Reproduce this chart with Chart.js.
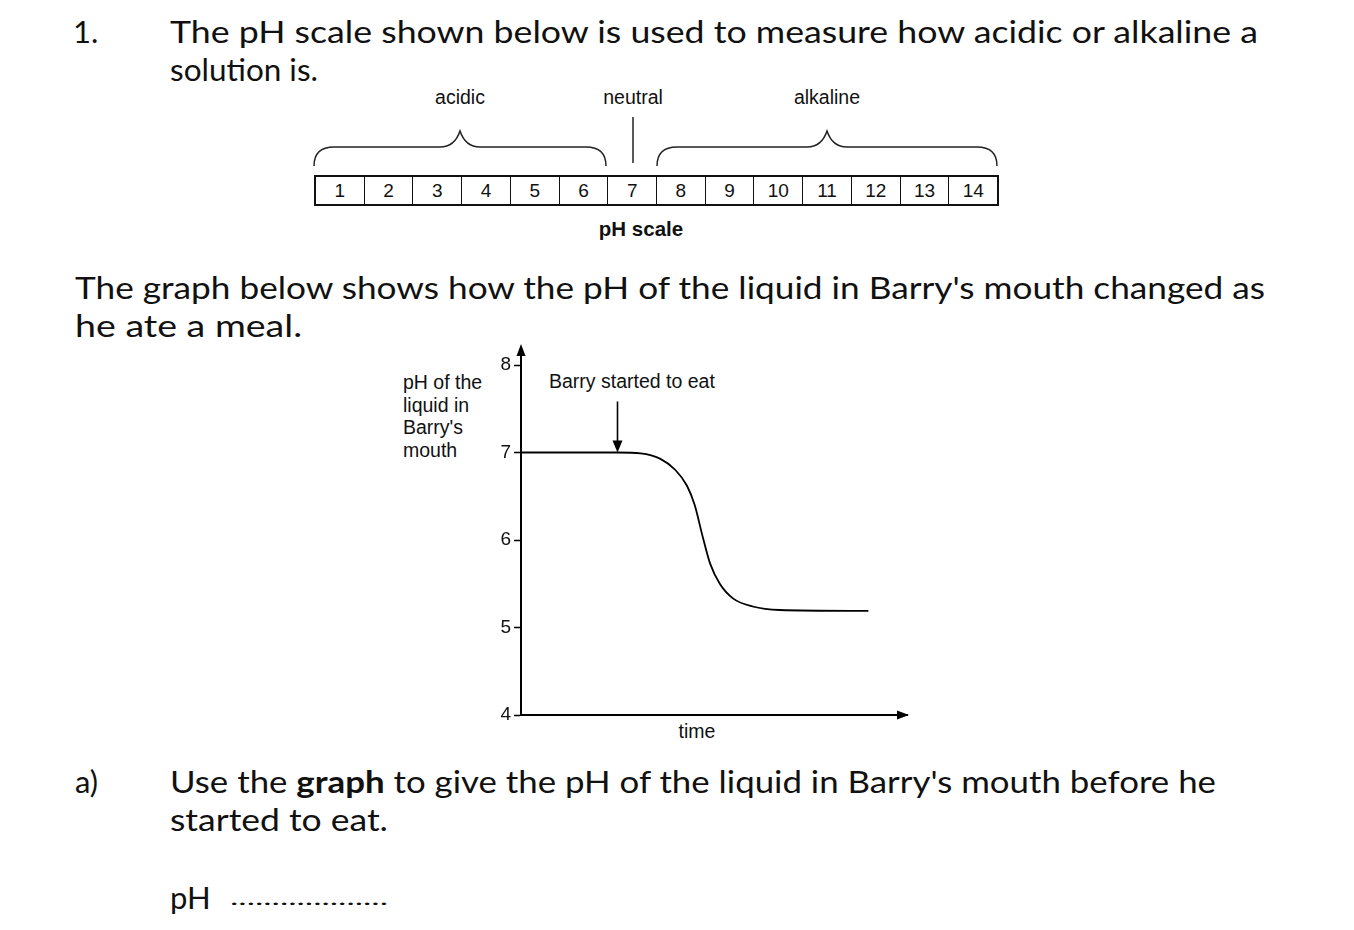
<!DOCTYPE html>
<html><head><meta charset="utf-8">
<script src="https://cdn.jsdelivr.net/npm/chart.js@4.4.1/dist/chart.umd.min.js"></script>
<style>
html,body{margin:0;padding:0;background:#fff;}
body{width:1354px;height:930px;overflow:hidden;position:relative;color:#111;}
.t{position:absolute;white-space:nowrap;font-family:'Lato','Open Sans',sans-serif;font-size:31px;line-height:31px;transform-origin:0 50%;}
.a{position:absolute;white-space:nowrap;font-family:'Liberation Sans',Arial,sans-serif;font-size:19.5px;line-height:22.6px;}
#phscale{position:absolute;left:314px;top:175px;width:685px;height:31px;box-sizing:border-box;border:2px solid #111;display:flex;}
#phscale div{flex:1;border-left:1px solid #111;text-align:center;font-family:'Liberation Sans',Arial,sans-serif;font-size:19px;line-height:27px;}
#phscale div:first-child{border-left:none;}
#chartWrap{position:absolute;left:400px;top:330px;width:520px;height:420px;}
</style></head><body>

<div class="t" style="left:73px;top:16px">1.</div>
<div class="t fit" data-w="1088" style="left:170px;top:16px">The pH scale shown below is used to measure how acidic or alkaline a</div>
<div class="t fit" data-w="148" style="left:170px;top:54px">solution is.</div>

<div class="a" style="left:460px;top:86px;transform:translateX(-50%)">acidic</div>
<div class="a" style="left:633px;top:86px;transform:translateX(-50%)">neutral</div>
<div class="a" style="left:827px;top:86px;transform:translateX(-50%)">alkaline</div>

<svg style="position:absolute;left:0;top:0" width="1354" height="930">
  <g fill="none" stroke="#222" stroke-width="1.5">
    <path d="M314,166 Q314,147 334,147 L440,147 C452,147 457,140 460,131 C463,140 468,147 480,147 L586,147 Q606,147 606,166"/>
    <path d="M657,166 Q657,147 677,147 L807,147 C819,147 824,140 827,131 C830,140 835,147 847,147 L977,147 Q997,147 997,166"/>
    <path d="M633,117 L633,163"/>
  </g>
</svg>

<div id="phscale"></div>
<div class="a" style="left:641px;top:218px;transform:translateX(-50%);font-weight:bold;font-size:20.5px">pH scale</div>

<div class="t fit" data-w="1190" style="left:75px;top:272px">The graph below shows how the pH of the liquid in Barry's mouth changed as</div>
<div class="t fit" data-w="227" style="left:75px;top:310px">he ate a meal.</div>

<div class="a" style="left:403px;top:371px">pH of the<br>liquid in<br>Barry's<br>mouth</div>
<div class="a" style="left:549px;top:370px">Barry started to eat</div>
<div class="a" style="left:697px;top:720px;transform:translateX(-50%)">time</div>

<div id="chartWrap"><canvas id="c" width="520" height="420"></canvas></div>

<div class="t" style="left:75px;top:766px">a)</div>
<div class="t fit" data-w="1046" style="left:170px;top:766px">Use the <b>graph</b> to give the pH of the liquid in Barry's mouth before he</div>
<div class="t fit" data-w="218" style="left:170px;top:804px">started to eat.</div>
<div class="t" style="left:170px;top:882px">pH</div>
<div class="t fit" data-w="158" style="left:230px;top:882px;font-size:20px">...................</div>

<script>
// ---- data ----
const phScaleLabels = ['1','2','3','4','5','6','7','8','9','10','11','12','13','14'];
const timeValues = [0, 25, 31, 36, 40, 43, 45, 47, 49, 51.5, 55, 60, 67, 90];
const phValues   = [7, 7, 6.99, 6.93, 6.8, 6.62, 6.4, 6.05, 5.73, 5.5, 5.33, 5.24, 5.2, 5.19];
const yTickValues = [4, 5, 6, 7, 8];
const eatTime = 25;
const eatPh = 7;

// pH scale cells
const ps = document.getElementById('phscale');
phScaleLabels.forEach(l => { const d = document.createElement('div'); d.textContent = l; ps.appendChild(d); });

// fit text widths
function fit(){
  document.querySelectorAll('.fit').forEach(el => {
    el.style.transform = 'none';
    const w = el.getBoundingClientRect().width;
    const target = parseFloat(el.dataset.w);
    if (w > 0) el.style.transform = 'scaleX(' + (target / w) + ')';
  });
}
fit();
if (document.fonts && document.fonts.ready) document.fonts.ready.then(fit);

const arrowPlugin = {
  id: 'arrows',
  afterDraw(chart){
    const {ctx, chartArea:{left, top, right, bottom}, scales:{x, y}} = chart;
    ctx.save();
    ctx.strokeStyle = '#000'; ctx.fillStyle = '#000';
    // y axis extension + arrowhead
    ctx.lineWidth = 2;
    ctx.beginPath(); ctx.moveTo(left, top + 1); ctx.lineTo(left, top - 12); ctx.stroke();
    ctx.beginPath(); ctx.moveTo(left, top - 21); ctx.lineTo(left - 4.5, top - 9); ctx.lineTo(left + 4.5, top - 9); ctx.closePath(); ctx.fill();
    // x axis arrowhead
    ctx.beginPath(); ctx.moveTo(right + 2, bottom); ctx.lineTo(right - 10, bottom - 4.5); ctx.lineTo(right - 10, bottom + 4.5); ctx.closePath(); ctx.fill();
    // "Barry started to eat" arrow
    const ex = x.getPixelForValue(eatTime), ey = y.getPixelForValue(eatPh);
    ctx.lineWidth = 1.6;
    ctx.beginPath(); ctx.moveTo(ex, ey - 51); ctx.lineTo(ex, ey - 10); ctx.stroke();
    ctx.beginPath(); ctx.moveTo(ex, ey); ctx.lineTo(ex - 5, ey - 12); ctx.lineTo(ex + 5, ey - 12); ctx.closePath(); ctx.fill();
    ctx.restore();
  }
};

new Chart(document.getElementById('c'), {
  type: 'line',
  data: {
    datasets: [{
      data: timeValues.map((t, i) => ({x: t, y: phValues[i]})),
      borderColor: '#000',
      borderWidth: 1.8,
      pointRadius: 0,
      fill: false,
      cubicInterpolationMode: 'monotone'
    }]
  },
  options: {
    responsive: false,
    animation: false,
    events: [],
    layout: {padding: {top: 35, right: 13, left: 0, bottom: 0}},
    plugins: {legend: {display: false}, tooltip: {enabled: false}},
    scales: {
      x: {
        type: 'linear', min: 0, max: 100,
        grid: {display: true, drawOnChartArea: false, drawTicks: false},
        ticks: {display: false},
        border: {display: true, color: '#000', width: 2},
        afterFit(s){ s.height = 35; }
      },
      y: {
        type: 'linear', min: 4, max: 8,
        afterBuildTicks(s){ s.ticks = yTickValues.map(v => ({value: v})); },
        grid: {display: true, drawOnChartArea: false, drawTicks: true, tickLength: 7, tickColor: '#000', tickWidth: 1.5},
        border: {display: true, color: '#000', width: 2},
        ticks: {padding: 3, color: '#111', font: {family: 'Liberation Sans', size: 19}},
        afterFit(s){ s.width = 121; }
      }
    }
  },
  plugins: [arrowPlugin]
});
</script>
</body></html>
